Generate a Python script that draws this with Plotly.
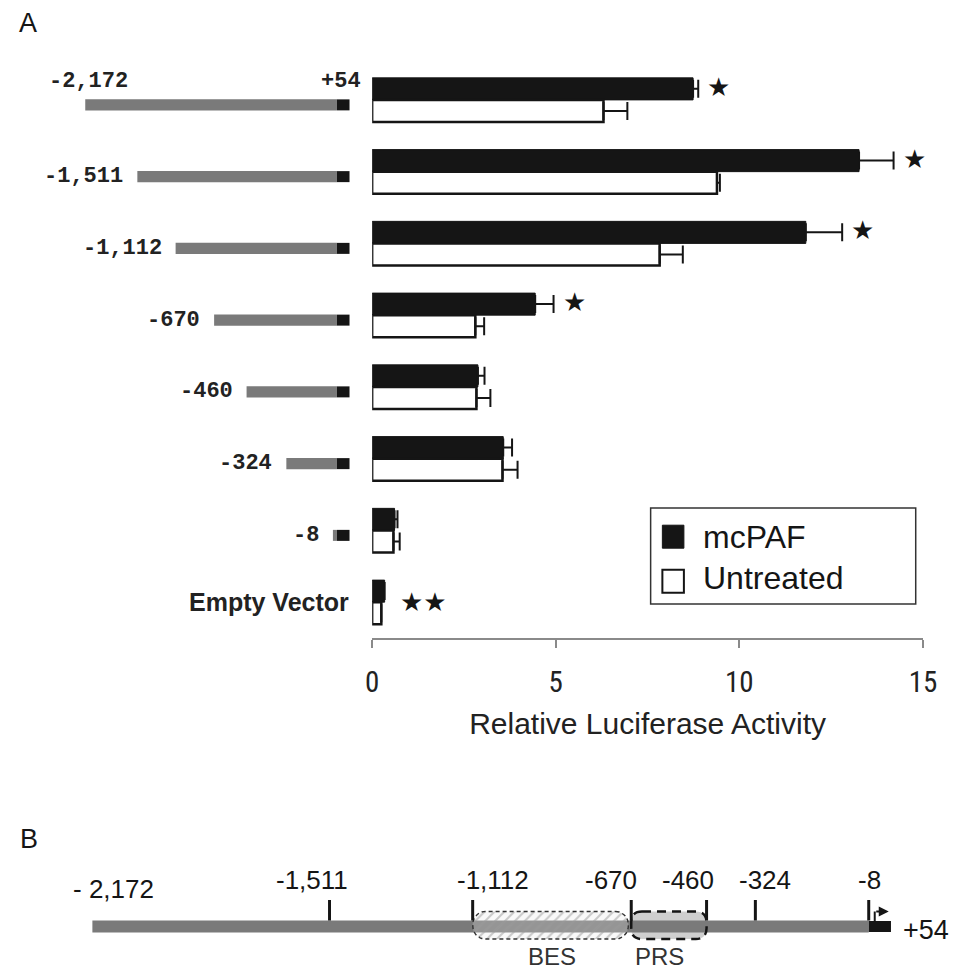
import numpy as np
import plotly.graph_objects as go

# ---------------- data ----------------
constructs = ["-2,172", "-1,511", "-1,112", "-670", "-460", "-324", "-8", "Empty Vector"]
construct_start_bp = [-2172, -1511, -1112, -670, -460, -324, -8]
# schematic (not-to-scale) construct drawing lengths, arbitrary units (full length = 100)
diagram_len = [100, 79.3, 64.1, 48.8, 35.9, 20.1, 1.6]
exon_len = 5  # schematic length of the black +54 segment, same units

mcpaf = [8.74, 13.26, 11.81, 4.44, 2.88, 3.57, 0.61, 0.34]
mcpaf_err = [0.14, 0.94, 0.99, 0.50, 0.18, 0.24, 0.08, None]
untreated = [6.30, 9.39, 7.83, 2.81, 2.84, 3.55, 0.58, 0.25]
untreated_err = [0.65, 0.08, 0.63, 0.24, 0.38, 0.41, 0.17, None]
significance = ["★", "★", "★", "★", "", "", "", "★★"]
series_names = ["mcPAF", "Untreated"]
x_ticks = [0, 5, 10, 15]

map_start_bp = -2172
map_end_bp = 54
map_sites_bp = [-1511, -1112, -670, -460, -324, -8]
bes_bp = (-1112, -670)
prs_bp = (-670, -460)

# ---------------- layout helpers ----------------
W, H = 962, 971
def fx(p):
    return p / W
def fy(p):
    return 1 - p / H

SANS = "Liberation Sans, Arial, sans-serif"
NARROW = "Liberation Sans Narrow, Arial Narrow, Roboto Condensed, DejaVu Sans Condensed, sans-serif"
MONO = "Liberation Mono, Courier New, monospace"
INK = "#151515"
GRAY = "#7a7a7a"

row_px = 71.7          # pixel pitch of one category row
bar_w = 22 / row_px    # thickness of one result bar (category units)
dna_w = 11 / row_px
dna_off = 5 / row_px - dna_w / 2

fig = go.Figure()

# ---------------- panel A: results ----------------
fig.add_trace(go.Bar(
    name=series_names[0], y=constructs, x=mcpaf, orientation="h",
    offset=-bar_w, width=bar_w,
    marker=dict(color=INK, line=dict(color=INK, width=1)),
    error_x=dict(type="data", symmetric=False, array=mcpaf_err,
                 arrayminus=[0 if e is not None else None for e in mcpaf_err],
                 color=INK, thickness=2, width=9),
    showlegend=False, xaxis="x", yaxis="y"))
fig.add_trace(go.Bar(
    name=series_names[1], y=constructs, x=untreated, orientation="h",
    offset=0, width=bar_w,
    marker=dict(color="white", line=dict(color=INK, width=2.5)),
    error_x=dict(type="data", symmetric=False, array=untreated_err,
                 arrayminus=[0 if e is not None else None for e in untreated_err],
                 color=INK, thickness=2, width=9),
    showlegend=False, xaxis="x", yaxis="y"))

# ---------------- panel A: construct drawings ----------------
fig.add_trace(go.Bar(
    y=constructs[:7], x=diagram_len, base=[-L for L in diagram_len], orientation="h",
    offset=dna_off, width=dna_w, marker=dict(color=GRAY, line=dict(width=0)),
    showlegend=False, hoverinfo="skip", xaxis="x2", yaxis="y2"))
fig.add_trace(go.Bar(
    y=constructs[:7], x=[exon_len] * 7, base=[0] * 7, orientation="h",
    offset=dna_off, width=dna_w, marker=dict(color=INK, line=dict(width=0)),
    showlegend=False, hoverinfo="skip", xaxis="x2", yaxis="y2"))

annotations = []
label_font = dict(family=MONO, size=22, color="#222")
for i, (lab, L) in enumerate(zip(constructs[:7], diagram_len)):
    if i == 0:
        annotations.append(dict(x=-L, y=i, xref="x2", yref="y2", text=f"<b>{lab}</b>", showarrow=False,
                                xanchor="center", yanchor="middle", xshift=3, yshift=18, font=label_font))
    else:
        annotations.append(dict(x=-L, y=i, xref="x2", yref="y2", text=f"<b>{lab}</b>", showarrow=False,
                                xanchor="right", yanchor="middle", xshift=-12, yshift=-5, font=label_font))
annotations.append(dict(x=exon_len / 2, y=0, xref="x2", yref="y2", text=f"<b>+{map_end_bp}</b>",
                        showarrow=False, xanchor="center", yanchor="middle", xshift=-2, yshift=18,
                        font=label_font))
annotations.append(dict(x=exon_len, y=7, xref="x2", yref="y2",
                        text=f"<b>{constructs[7]}</b>", showarrow=False, xanchor="right", yanchor="middle",
                        xshift=1, font=dict(family=SANS, size=25, color="#222")))

# significance stars
for i, s in enumerate(significance):
    if not s:
        continue
    end = mcpaf[i] + (mcpaf_err[i] or 0)
    annotations.append(dict(x=end, y=i, xref="x", yref="y", text=s, showarrow=False,
                            xanchor="left", yanchor="middle",
                            xshift=7 if len(s) == 1 else 13, yshift=13 if len(s) == 1 else 0,
                            font=dict(family="DejaVu Sans", size=26, color=INK)))

# legend (drawn as a boxed key)
shapes = []
shapes.append(dict(type="rect", xref="paper", yref="paper", x0=fx(658), x1=fx(929), y0=fy(604), y1=fy(508),
                   fillcolor="white", line=dict(color="#333", width=1.5), layer="above"))
key_styles = [dict(fillcolor=INK, line=dict(color=INK, width=1)),
              dict(fillcolor="white", line=dict(color=INK, width=2))]
key_rows = [(536.7, 537), (581.3, 578)]   # (swatch centre, text centre) in px
for (nm, st), (ys, yt) in zip(zip(series_names, key_styles), key_rows):
    shapes.append(dict(type="rect", xref="paper", yref="paper", x0=fx(670), x1=fx(692),
                       y0=fy(ys + 11.5), y1=fy(ys - 11.5), layer="above", **st))
    annotations.append(dict(x=fx(709), y=fy(yt), xref="paper", yref="paper", text=nm, showarrow=False,
                            xanchor="left", yanchor="middle",
                            font=dict(family=SANS, size=32, color=INK)))

# panel letters
annotations.append(dict(x=fx(21), y=fy(23), xref="paper", yref="paper", text="A", showarrow=False,
                        xanchor="center", yanchor="middle", font=dict(family=SANS, size=27, color=INK)))
annotations.append(dict(x=fx(22), y=fy(839), xref="paper", yref="paper", text="B", showarrow=False,
                        xanchor="center", yanchor="middle", font=dict(family=SANS, size=27, color=INK)))

# ---------------- panel B: promoter map ----------------
map_left_px, map_right_px = 87.3, 903.7
px_per_bp = (map_right_px - map_left_px) / (map_end_bp - map_start_bp)
x3_range = [map_start_bp - map_left_px / px_per_bp, map_end_bp + (W - map_right_px) / px_per_bp]

def rounded_path(x0, x1, y0, y1, r_px):
    rx = r_px / px_per_bp
    ry = r_px
    return (f"M{x0 + rx},{y0} L{x1 - rx},{y0} Q{x1},{y0} {x1},{y0 + ry} L{x1},{y1 - ry} "
            f"Q{x1},{y1} {x1 - rx},{y1} L{x0 + rx},{y1} Q{x0},{y1} {x0},{y1 - ry} "
            f"L{x0},{y0 + ry} Q{x0},{y0} {x0 + rx},{y0} Z")

def rounded_pts(x0, x1, y0, y1, r_px, n=12):
    rx = r_px / px_per_bp
    ry = r_px
    xs, ys = [], []
    corners = [(x1 - rx, y0 + ry, -np.pi / 2, 0), (x1 - rx, y1 - ry, 0, np.pi / 2),
               (x0 + rx, y1 - ry, np.pi / 2, np.pi), (x0 + rx, y0 + ry, np.pi, 1.5 * np.pi)]
    for cx, cy, a0, a1 in corners:
        t = np.linspace(a0, a1, n)
        xs += list(cx + rx * np.cos(t))
        ys += list(cy + ry * np.sin(t))
    xs.append(xs[0]); ys.append(ys[0])
    return xs, ys

box_top, box_bot = -15, 12.5
# PRS fill (under the line)
shapes.append(dict(type="path", xref="x3", yref="y3", layer="below",
                   path=rounded_path(prs_bp[0], prs_bp[1], box_top, box_bot, 11),
                   fillcolor="#cfcfcf", line=dict(width=0)))
# promoter line and +54 exon
shapes.append(dict(type="rect", xref="x3", yref="y3", layer="below", x0=map_start_bp, x1=map_sites_bp[-1],
                   y0=-6, y1=6, fillcolor=GRAY, line=dict(width=0)))
shapes.append(dict(type="rect", xref="x3", yref="y3", layer="below", x0=map_sites_bp[-1], x1=map_end_bp,
                   y0=-5.5, y1=5.5, fillcolor=INK, line=dict(width=0)))
# site ticks
for bp in map_sites_bp:
    shapes.append(dict(type="rect", xref="x3", yref="y3", layer="above", xsizemode="pixel", xanchor=bp,
                       x0=-1.5, x1=1.5, y0=-26.5, y1=-6, fillcolor=INK, line=dict(width=0)))
# transcription start arrow stem
shapes.append(dict(type="line", xref="x3", yref="y3", layer="above", xsizemode="pixel",
                   xanchor=map_sites_bp[-1], x0=6, x1=6, y0=-5, y1=-15, line=dict(color=INK, width=2)))
# PRS dashed outline
shapes.append(dict(type="path", xref="x3", yref="y3", layer="above",
                   path=rounded_path(prs_bp[0], prs_bp[1], box_top, box_bot, 11),
                   line=dict(color=INK, width=2.5, dash="9px,6px")))

# BES hatched region (trace so it can carry a fill pattern)
gap_bp = 3 / px_per_bp
bx, by = rounded_pts(bes_bp[0], bes_bp[1] - gap_bp, box_top, box_bot, 13)
fig.add_trace(go.Scatter(x=bx, y=by, xaxis="x3", yaxis="y3", mode="lines", fill="toself",
                         fillcolor="rgba(225,225,225,0.25)",
                         fillpattern=dict(shape="/", fgcolor="#9a9a9a", bgcolor="rgba(230,230,230,0.25)",
                                          size=7, solidity=0.3),
                         line=dict(color="#333", width=1.4, dash="4px,3px"),
                         showlegend=False, hoverinfo="skip"))

# arrow head
annotations.append(dict(x=map_sites_bp[-1], y=-15, xref="x3", yref="y3", xshift=20, text="",
                        showarrow=True, ax=-14, ay=0, axref="pixel", ayref="pixel",
                        arrowhead=2, arrowsize=1, arrowwidth=2, arrowcolor=INK))

# map labels
label_nudge = {-1511: -18, -1112: 20, -670: -20, -460: -19, -324: 10, -8: 1}
for bp in map_sites_bp:
    annotations.append(dict(x=bp, y=-46.5, xref="x3", yref="y3", text=f"{bp:,}", showarrow=False,
                            xanchor="center", yanchor="middle", xshift=label_nudge.get(bp, 0),
                            font=dict(family=SANS, size=26, color=INK)))
annotations.append(dict(x=map_start_bp, y=-37.5, xref="x3", yref="y3", text=f"- {abs(map_start_bp):,}",
                        showarrow=False, xanchor="left", yanchor="middle", xshift=-21,
                        font=dict(family=SANS, size=26, color=INK)))
annotations.append(dict(x=map_end_bp, y=3.5, xref="x3", yref="y3", text=f"+{map_end_bp}",
                        showarrow=False, xanchor="left", yanchor="middle", xshift=10,
                        font=dict(family=SANS, size=27, color=INK)))
annotations.append(dict(x=sum(bes_bp) / 2, y=29.5, xref="x3", yref="y3", text="BES", showarrow=False,
                        xanchor="center", yanchor="middle",
                        font=dict(family=SANS, size=24, color="#333")))
annotations.append(dict(x=sum(prs_bp) / 2, y=29.5, xref="x3", yref="y3", text="PRS", showarrow=False,
                        xanchor="center", yanchor="middle", xshift=-9,
                        font=dict(family=SANS, size=24, color="#333")))

ycommon = dict(type="category", categoryorder="array", categoryarray=constructs,
               range=[len(constructs) - 0.5, -0.5], visible=False,
               domain=[fy(638), fy(64)])

fig.update_layout(
    width=W, height=H, autosize=False,
    margin=dict(l=0, r=0, t=0, b=0, pad=0),
    paper_bgcolor="white", plot_bgcolor="rgba(0,0,0,0)",
    barmode="overlay",
    font=dict(family=SANS, color=INK),
    xaxis=dict(domain=[fx(373.3), fx(936.4)], range=[0, 15], anchor="y",
               tickvals=x_ticks, ticks="outside", ticklen=8, tickwidth=1.5, tickcolor="#8a8a8a",
               showline=True, linecolor="#8a8a8a", linewidth=1.5, showgrid=False, zeroline=False,
               tickfont=dict(family=NARROW, size=29, color="#222"), ticklabelstandoff=9,
               title=dict(text="Relative Luciferase Activity", standoff=15,
                          font=dict(family=SANS, size=30, color="#222"))),
    yaxis=dict(anchor="x", **ycommon),
    xaxis2=dict(domain=[0, fx(372)], range=[-337.3 / 2.573, (372 - 337.3) / 2.573],
                anchor="y2", visible=False),
    yaxis2=dict(anchor="x2", **ycommon),
    xaxis3=dict(domain=[0, 1], range=x3_range, anchor="y3", visible=False),
    yaxis3=dict(domain=[0, fy(825)], range=[971 - 926.5, 825 - 926.5], anchor="x3", visible=False),
    shapes=shapes,
    annotations=annotations,
    showlegend=False,
)

fig.write_html("out.html", config={"displayModeBar": False},
               post_script="document.body.style.margin='0';document.body.style.overflow='hidden';")
